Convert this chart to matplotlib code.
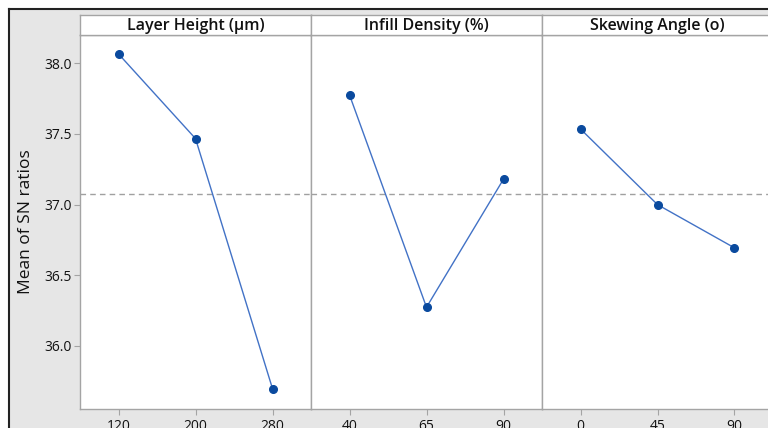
import matplotlib
matplotlib.use("Agg")
import matplotlib.pyplot as plt
from matplotlib.patches import Rectangle
from matplotlib.lines import Line2D
import numpy as np

plt.rcParams['font.family'] = ['Open Sans', 'DejaVu Sans']

factors = ["Layer Height (\u00b5m)", "Infill Density (%)", "Skewing Angle (o)"]
layer_levels = ["120", "200", "280"]
layer_sn = [38.066, 37.467, 35.698]
infill_levels = ["40", "65", "90"]
infill_sn = [37.776, 36.274, 37.180]
skew_levels = ["0", "45", "90"]
skew_sn = [37.535, 37.000, 36.694]
y_ticks = [36.0, 36.5, 37.0, 37.5, 38.0]
y_label = "Mean of SN ratios"

levels = [layer_levels, infill_levels, skew_levels]
values = [layer_sn, infill_sn, skew_sn]
grand_mean = float(np.mean(layer_sn + infill_sn + skew_sn))

W, H = 768, 428
fig = plt.figure(figsize=(W / 100, H / 100), dpi=100)
fig.patch.set_facecolor("white")

def fx(px):
    return px / W

def fy(py):
    return 1 - py / H

# outer gray panel with dark border on left/top
bg = Rectangle((fx(9), -0.1), 1.5, fy(9) + 0.1, transform=fig.transFigure,
               facecolor="#e6e6e6", edgecolor="none", zorder=-10)
fig.add_artist(bg)
fig.add_artist(Line2D([fx(9), fx(9)], [-0.1, fy(9)], transform=fig.transFigure,
                      color="#222222", lw=1.5, zorder=-5))
fig.add_artist(Line2D([fx(9), 1.2], [fy(9), fy(9)], transform=fig.transFigure,
                      color="#222222", lw=1.5, zorder=-5))

left0 = 80.0
pw = 231.0
top_plot = 34.7
bot_plot = 409.3
top_head = 14.7
ymin, ymax = 35.552, 38.202

line_col = "#4272c6"
mark_col = "#0a4a9e"
spine_col = "#a4a4a4"
text_col = "#111111"

axes = []
for i in range(3):
    x0 = left0 + i * pw
    ax = fig.add_axes([fx(x0), fy(bot_plot), fx(pw), fy(top_plot) - fy(bot_plot)])
    ax.set_facecolor("white")
    xs = np.arange(len(levels[i]))
    ax.axhline(grand_mean, color="#a0a0a0", lw=1.0, ls=(0, (4, 3)), zorder=1)
    ax.plot(xs, values[i], color=line_col, lw=1.0, zorder=2)
    ax.plot(xs, values[i], "o", color=mark_col, ms=5.5, zorder=3)
    ax.set_xlim(-0.5, 2.5)
    ax.set_ylim(ymin, ymax)
    ax.set_xticks(xs)
    ax.set_xticklabels(levels[i])
    for s in ax.spines.values():
        s.set_color(spine_col)
        s.set_linewidth(1.0)
    ax.tick_params(axis="x", direction="out", length=4, color=spine_col,
                   labelsize=10, labelcolor=text_col, pad=3)
    if i == 0:
        ax.set_yticks(y_ticks)
        ax.set_yticklabels([f"{v:.1f}" for v in y_ticks])
        ax.tick_params(axis="y", direction="out", length=4, color=spine_col,
                       labelsize=10, labelcolor=text_col, pad=2)
        ax.set_ylabel(y_label, fontsize=12.5, color=text_col, labelpad=7)
    else:
        ax.set_yticks([])
    # header strip
    hx = fig.add_axes([fx(x0), fy(top_plot), fx(pw), fy(top_head) - fy(top_plot)])
    hx.set_facecolor("white")
    hx.set_xticks([])
    hx.set_yticks([])
    for s in hx.spines.values():
        s.set_color(spine_col)
        s.set_linewidth(1.0)
    hx.text(0.5, 0.45, factors[i], ha="center", va="center", fontsize=11.5,
            fontweight="semibold", color=text_col, transform=hx.transAxes)
    axes.append(ax)

fig.savefig("out.png", dpi=100)
